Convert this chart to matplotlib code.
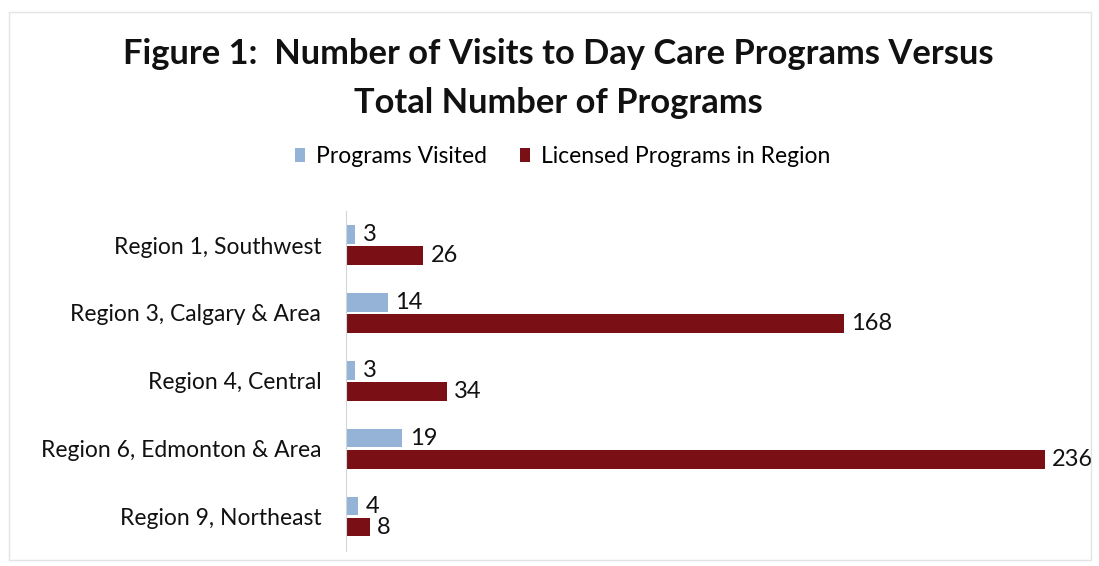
import matplotlib.pyplot as plt
import numpy as np
from matplotlib.patches import Rectangle

regions = ['Region 1, Southwest', 'Region 3, Calgary & Area', 'Region 4, Central',
           'Region 6, Edmonton & Area', 'Region 9, Northeast']
visited = [3, 14, 3, 19, 4]
licensed = [26, 168, 34, 236, 8]

blue = '#95b3d7'
red = '#7a1016'

plt.rcParams['font.family'] = ['Lato', 'DejaVu Sans']

fig = plt.figure(figsize=(10.99, 5.66), dpi=100)
# faint outline round the chart area
fig.patches.append(Rectangle((0.008, 0.01), 0.985, 0.968, transform=fig.transFigure,
                             fill=False, edgecolor='#e4e4e4', linewidth=1))

ax = fig.add_axes([0.315, 0.027, 0.668, 0.6])

y = np.arange(len(regions))
h = 0.27
off = 0.155
b1 = ax.barh(y - off, visited, height=h, color=blue, label='Programs Visited')
b2 = ax.barh(y + off, licensed, height=h, color=red, label='Licensed Programs in Region')

for bars, vals in ((b1, visited), (b2, licensed)):
    for bar, v in zip(bars, vals):
        ax.text(bar.get_width() + 2.5, bar.get_y() + bar.get_height() / 2, str(v),
                va='center', ha='left', fontsize=17, color='#111111')

ax.set_ylim(len(regions) - 0.5, -0.5)
ax.set_xlim(0, 248)
ax.set_yticks(y)
ax.set_yticklabels(regions, fontsize=16.5, color='#111111')
ax.tick_params(axis='y', length=0, pad=18)
ax.set_xticks([])
for s in ('top', 'right', 'bottom'):
    ax.spines[s].set_visible(False)
ax.spines['left'].set_color('#cfd6dc')

fig.text(0.508, 0.905, 'Figure 1:  Number of Visits to Day Care Programs Versus',
         ha='center', va='center', fontsize=24.8, fontweight='bold', color='#111111')
fig.text(0.508, 0.818, 'Total Number of Programs',
         ha='center', va='center', fontsize=24.8, fontweight='bold', color='#111111')

fig.legend(handles=[b1, b2], loc='center', bbox_to_anchor=(0.512, 0.723), ncol=2,
           frameon=False, fontsize=16.5, handlelength=0.45, handleheight=0.55,
           handletextpad=0.5, columnspacing=1.4)

fig.savefig('out.png', dpi=100)
